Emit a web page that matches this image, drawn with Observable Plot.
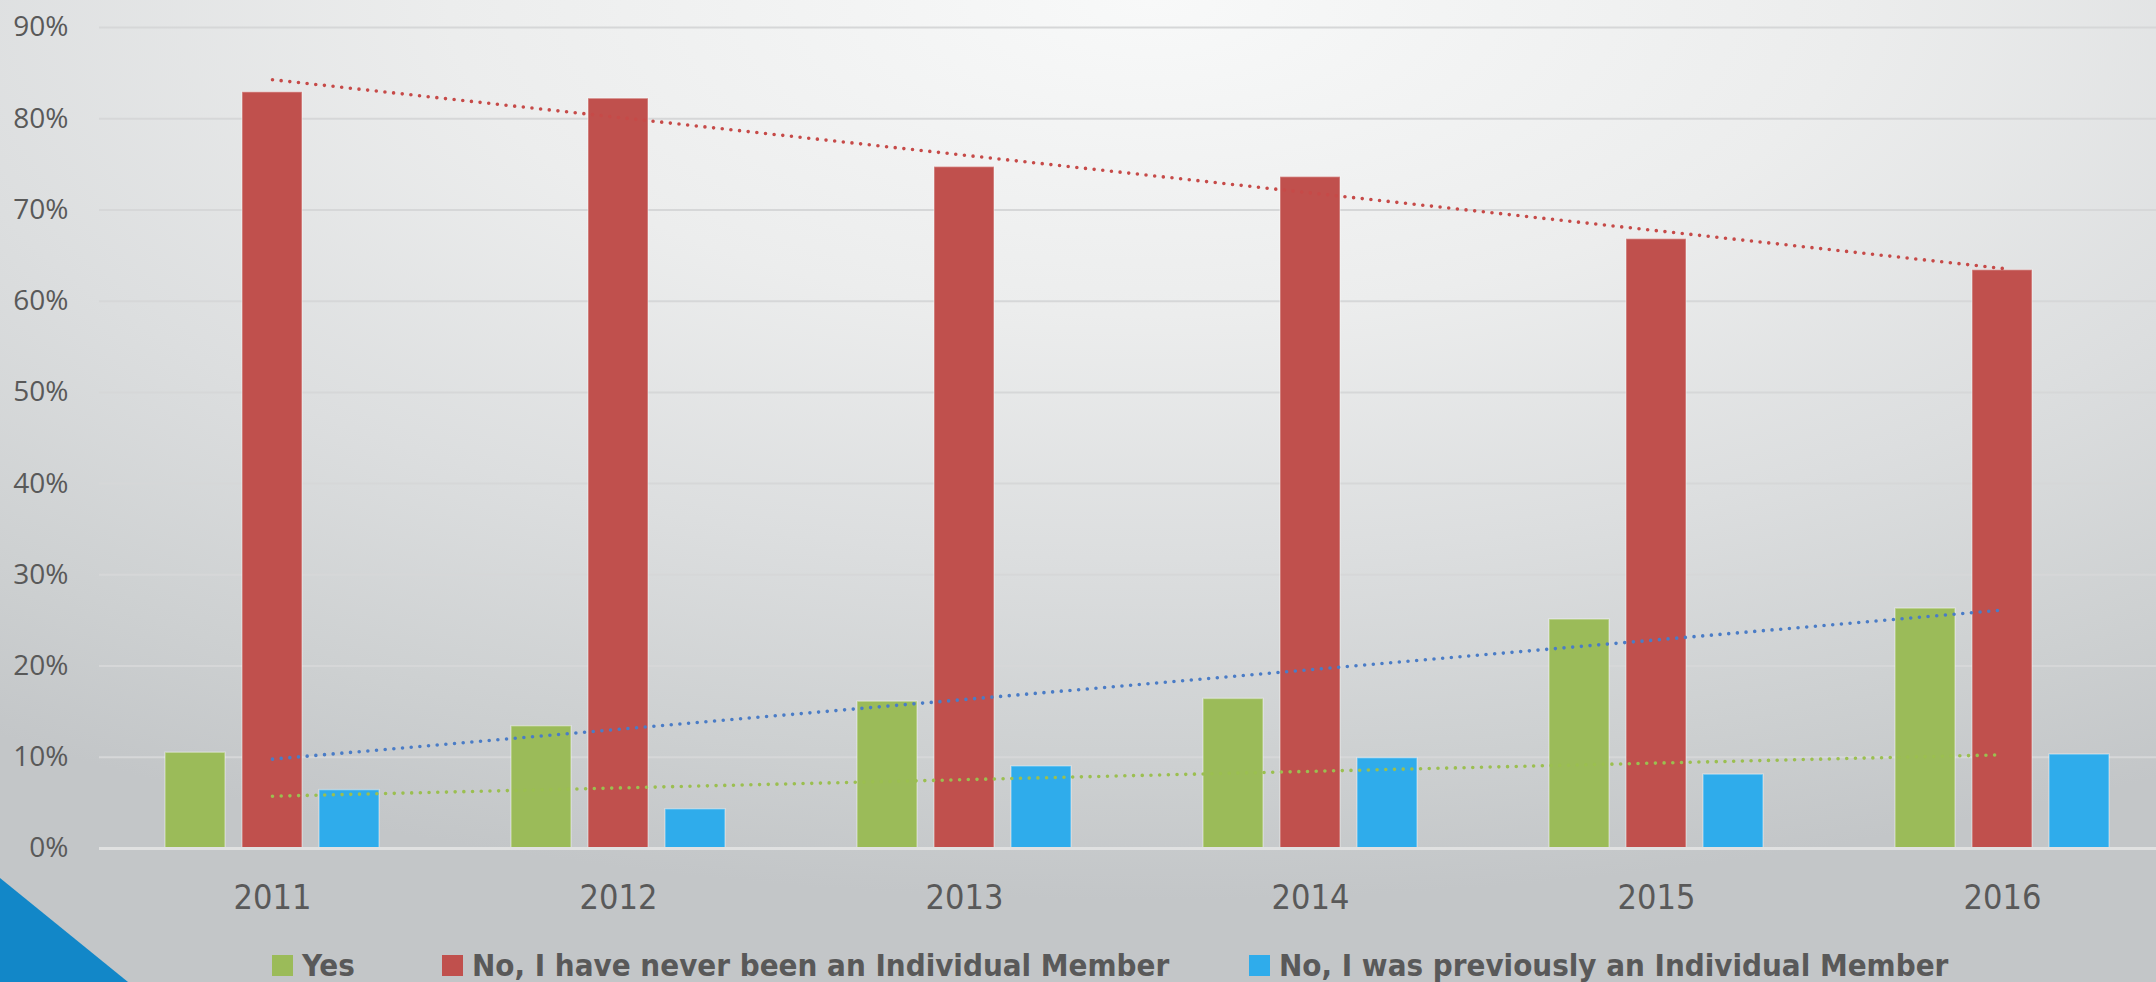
<!DOCTYPE html>
<html>
<head>
<meta charset="utf-8">
<script src="https://cdn.jsdelivr.net/npm/d3@7"></script>
<script src="https://cdn.jsdelivr.net/npm/@observablehq/plot@0.6"></script>
<style>
  html, body { margin: 0; padding: 0; }
  body {
    width: 2156px; height: 982px; overflow: hidden; position: relative;
    background: radial-gradient(ellipse 2000px 900px at 1150px 0px, #f8f9f9 0%, #eceded 35%, #dcdedf 62%, #cdd0d1 85%, #c3c6c8 100%);
  }
  #chart { position: absolute; left: 0; top: 0; }
  #tri { position: absolute; left: 0; top: 878px; width: 128px; height: 104px; background: #1287C8; clip-path: polygon(0 0, 0 100%, 100% 100%); }
  .item { position: absolute; top: 944px; display: flex; align-items: center; font-family: "Liberation Sans Narrow", "DejaVu Sans Condensed", "Open Sans", sans-serif; font-weight: bold; font-size: 31px; color: #595959; white-space: nowrap; line-height: 42px; }
  .sw { width: 21px; height: 21px; margin-right: 9px; }
</style>
</head>
<body>
<div id="chart"></div>
<div id="tri"></div>
<div id="legend"></div>
<script>
// ---- data ----
const years = ["2011", "2012", "2013", "2014", "2015", "2016"];
const yesValues = [10.5, 13.4, 16.1, 16.4, 25.1, 26.3];
const neverValues = [82.9, 82.2, 74.7, 73.6, 66.8, 63.4];
const previousValues = [6.4, 4.3, 9.0, 9.9, 8.1, 10.3];
const seriesNames = ["Yes", "No, I have never been an Individual Member", "No, I was previously an Individual Member"];
const seriesColors = ["#9BBB59", "#C0504D", "#2FACEB"];
const trendColors = ["#4A7CC6", "#C64A48", "#9BBF50"];
const yTicks = [0, 10, 20, 30, 40, 50, 60, 70, 80, 90];

const seriesValues = [yesValues, neverValues, previousValues];

// linear trend (least squares) over category index, like a spreadsheet trendline
function trend(values) {
  const xs = values.map((_, i) => i + 1);
  const mx = d3.mean(xs), my = d3.mean(values);
  const slope = d3.sum(xs, (x, i) => (x - mx) * (values[i] - my)) / d3.sum(xs, x => (x - mx) ** 2);
  return xs.map(x => my + slope * (x - mx));
}

const barMarks = seriesValues.map((vals, i) =>
  Plot.barY(years.map((y, j) => ({year: y, value: vals[j]})), {
    x: "year", y: "value", fill: seriesColors[i],
    insetLeft: 143, insetRight: 143, dx: (i - 1) * 77,
    stroke: "rgba(255,255,255,0.35)", strokeWidth: 1.5
  })
);

const trendMarks = seriesValues.map((vals, i) => {
  const t = trend(vals);
  return Plot.lineY(years.map((y, j) => ({year: y, value: t[j]})), {
    x: "year", y: "value", stroke: trendColors[i],
    strokeWidth: 3.6, strokeDasharray: "0 8.7", strokeLinecap: "round"
  });
});

const chart = Plot.plot({
  width: 2156,
  height: 930,
  marginLeft: 99,
  marginRight: 0,
  marginTop: 27,
  marginBottom: 82,
  style: {background: "transparent", overflow: "visible"},
  x: {type: "band", domain: years, range: [99, 2175], padding: 0},
  y: {domain: [0, 90], range: [848, 27]},
  marks: [
    Plot.ruleY(yTicks.filter(d => d > 0), {stroke: "#d6d7d8", strokeWidth: 2}),
    ...barMarks,
    Plot.ruleY([0], {stroke: "#e0e1e1", strokeWidth: 3}),
    ...trendMarks,
    Plot.axisY(yTicks, {tickSize: 0, tickPadding: 31, tickFormat: d => d + "%", fontSize: 28, fontFamily: "Open Sans", fill: "#595959", label: null}),
    Plot.axisX({tickSize: 0, tickPadding: 36, fontSize: 34, fontFamily: "Liberation Sans Narrow, DejaVu Sans Condensed, Open Sans", fill: "#595959", label: null})
  ]
});
document.getElementById("chart").appendChild(chart);

// legend
const legendLeft = [272, 442, 1249];
const legend = document.getElementById("legend");
seriesNames.forEach((name, i) => {
  const item = document.createElement("div");
  item.className = "item";
  item.style.left = legendLeft[i] + "px";
  const sw = document.createElement("span");
  sw.className = "sw";
  sw.style.background = seriesColors[i];
  const tx = document.createElement("span");
  tx.textContent = name;
  item.appendChild(sw);
  item.appendChild(tx);
  legend.appendChild(item);
});
</script>
</body>
</html>
